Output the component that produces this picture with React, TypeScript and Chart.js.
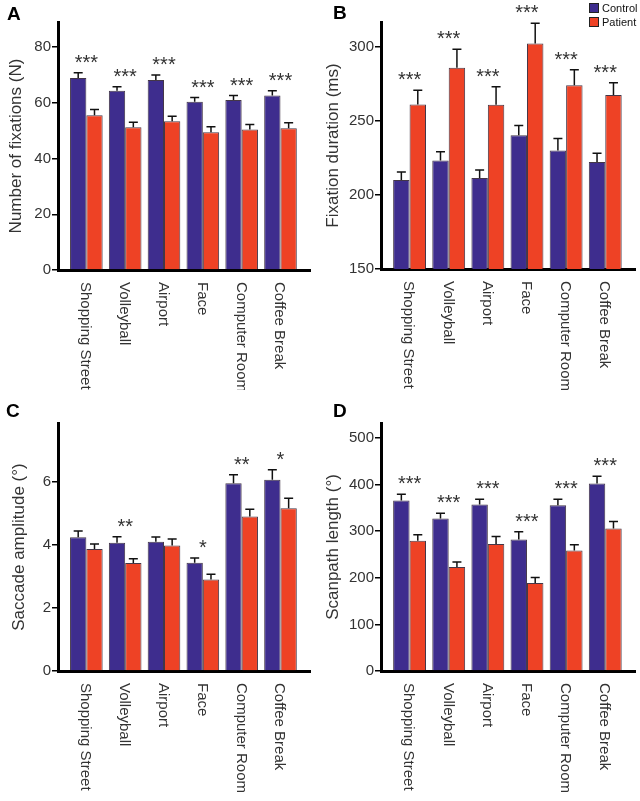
import React, { useEffect, useRef } from "react";
import { Chart, registerables } from "chart.js";

Chart.register(...registerables);

// ---------- data ----------
const categories = ["Shopping Street", "Volleyball", "Airport", "Face", "Computer Room", "Coffee Break"];
const seriesNames = ["Control", "Patient"];

// A: Number of fixations
const fixCountControl = [68.9, 64.3, 68.2, 60.4, 61.0, 62.6];
const fixCountControlErr = [1.9, 1.5, 1.8, 1.5, 1.6, 1.7];
const fixCountPatient = [55.5, 51.2, 53.4, 49.4, 50.4, 50.9];
const fixCountPatientErr = [2.1, 1.8, 1.8, 2.0, 1.8, 1.9];
const fixCountStars = ["***", "***", "***", "***", "***", "***"];
const fixCountTicks = [0, 20, 40, 60, 80];

// B: Fixation duration
const fixDurControl = [210.1, 223.4, 211.5, 240.5, 230.2, 222.3];
const fixDurControlErr = [5.4, 5.9, 5.4, 6.6, 8.1, 5.9];
const fixDurPatient = [261.3, 286.0, 261.0, 302.5, 274.3, 267.6];
const fixDurPatientErr = [9.6, 12.6, 12.2, 13.7, 10.4, 8.4];
const fixDurStars = ["***", "***", "***", "***", "***", "***"];
const fixDurTicks = [150, 200, 250, 300];

// C: Saccade amplitude
const saccControl = [4.23, 4.06, 4.09, 3.43, 5.94, 6.05];
const saccControlErr = [0.2, 0.19, 0.15, 0.15, 0.27, 0.32];
const saccPatient = [3.86, 3.42, 3.97, 2.9, 4.89, 5.15];
const saccPatientErr = [0.16, 0.13, 0.21, 0.16, 0.23, 0.32];
const saccStars = ["", "**", "", "*", "**", "*"];
const saccTicks = [0, 2, 4, 6];

// D: Scanpath length
const scanControl = [365.8, 327.2, 357.2, 282.2, 355.8, 402.2];
const scanControlErr = [13.5, 11.4, 11.4, 16.4, 12.8, 15.7];
const scanPatient = [279.3, 222.9, 272.2, 188.6, 258.7, 305.8];
const scanPatientErr = [12.8, 10.7, 16.4, 12.2, 12.0, 15.0];
const scanStars = ["***", "***", "***", "***", "***", "***"];
const scanTicks = [0, 100, 200, 300, 400, 500];

// ---------- style ----------
const CONTROL_COLOR = "#3e2d8e";
const PATIENT_COLOR = "#ee4225";
const BAR_BORDER = "rgba(35,20,40,0.85)";
const FONT = "'Liberation Sans', Arial, Helvetica, sans-serif";
const TEXT = "#333333";

type PanelDef = {
  letter: string;
  left: number;
  top: number;
  width: number;
  height: number;
  area: { left: number; top: number; right: number; bottom: number };
  yMin: number;
  yMax: number;
  ticks: number[];
  title: string;
  titlePad: number;
  control: number[];
  controlErr: number[];
  patient: number[];
  patientErr: number[];
  stars: string[];
  letterX: number;
  letterY: number;
  legend: boolean;
};

const panels: PanelDef[] = [
  {
    letter: "A", left: 0, top: 0, width: 320, height: 390,
    area: { left: 58, top: 22, right: 310, bottom: 270 },
    yMin: 0, yMax: 89, ticks: fixCountTicks, title: "Number of fixations (N)", titlePad: 6,
    control: fixCountControl, controlErr: fixCountControlErr,
    patient: fixCountPatient, patientErr: fixCountPatientErr, stars: fixCountStars,
    letterX: 7, letterY: 20, legend: false,
  },
  {
    letter: "B", left: 320, top: 0, width: 320, height: 390,
    area: { left: 61, top: 22, right: 315, bottom: 269 },
    yMin: 150, yMax: 317, ticks: fixDurTicks, title: "Fixation duration (ms)", titlePad: 3,
    control: fixDurControl, controlErr: fixDurControlErr,
    patient: fixDurPatient, patientErr: fixDurPatientErr, stars: fixDurStars,
    letterX: 13, letterY: 19, legend: true,
  },
  {
    letter: "C", left: 0, top: 390, width: 320, height: 411,
    area: { left: 58, top: 33, right: 310, bottom: 281 },
    yMin: 0, yMax: 7.85, ticks: saccTicks, title: "Saccade amplitude (°)", titlePad: 9,
    control: saccControl, controlErr: saccControlErr,
    patient: saccPatient, patientErr: saccPatientErr, stars: saccStars,
    letterX: 6, letterY: 27, legend: false,
  },
  {
    letter: "D", left: 320, top: 390, width: 320, height: 411,
    area: { left: 61, top: 33, right: 315, bottom: 281 },
    yMin: 0, yMax: 532, ticks: scanTicks, title: "Scanpath length (°)", titlePad: 3,
    control: scanControl, controlErr: scanControlErr,
    patient: scanPatient, patientErr: scanPatientErr, stars: scanStars,
    letterX: 13, letterY: 27, legend: false,
  },
];

// ---------- plugins ----------
const errorBarPlugin = {
  id: "errorBars",
  afterDatasetsDraw(chart: any) {
    const ctx = chart.ctx;
    const yScale = chart.scales.y;
    ctx.save();
    ctx.strokeStyle = "#111";
    ctx.lineWidth = 1.5;
    chart.data.datasets.forEach((ds: any, di: number) => {
      const meta = chart.getDatasetMeta(di);
      meta.data.forEach((bar: any, i: number) => {
        const v = ds.data[i].y;
        const e = ds.errors[i];
        const yErr = yScale.getPixelForValue(v + e);
        ctx.beginPath();
        ctx.moveTo(bar.x, bar.y);
        ctx.lineTo(bar.x, yErr);
        ctx.moveTo(bar.x - 4.5, yErr);
        ctx.lineTo(bar.x + 4.5, yErr);
        ctx.stroke();
      });
    });
    ctx.restore();
  },
};

const decorPlugin = {
  id: "decor",
  afterDraw(chart: any) {
    const p: PanelDef = chart.options.plugins.decor.panel;
    const ctx = chart.ctx;
    const xScale = chart.scales.x;
    const yScale = chart.scales.y;
    const area = chart.chartArea;
    const ds = chart.data.datasets;
    ctx.save();

    // significance stars
    ctx.fillStyle = TEXT;
    ctx.font = `20px ${FONT}`;
    ctx.textAlign = "center";
    ctx.textBaseline = "alphabetic";
    categories.forEach((_, i) => {
      const s = p.stars[i];
      if (!s) return;
      const top = Math.max(ds[0].data[i].y + ds[0].errors[i], ds[1].data[i].y + ds[1].errors[i]);
      const y = yScale.getPixelForValue(top);
      ctx.fillText(s, xScale.getPixelForValue(i), y - 4);
    });

    // rotated category labels (reading top to bottom)
    ctx.font = `15px ${FONT}`;
    ctx.fillStyle = TEXT;
    ctx.textAlign = "left";
    ctx.textBaseline = "middle";
    categories.forEach((c, i) => {
      ctx.save();
      ctx.translate(xScale.getPixelForValue(i) - 1, area.bottom + 12);
      ctx.rotate(Math.PI / 2);
      ctx.fillText(c, 0, 0);
      ctx.restore();
    });

    // panel letter
    ctx.font = `bold 19px ${FONT}`;
    ctx.fillStyle = "#000";
    ctx.textAlign = "left";
    ctx.textBaseline = "alphabetic";
    ctx.fillText(p.letter, p.letterX, p.letterY);

    // legend
    if (p.legend) {
      const colors = [CONTROL_COLOR, PATIENT_COLOR];
      ctx.font = `11px ${FONT}`;
      ctx.textBaseline = "middle";
      seriesNames.forEach((name, k) => {
        const sx = 269;
        const sy = 3 + k * 14;
        ctx.fillStyle = colors[k];
        ctx.fillRect(sx, sy, 10, 10);
        ctx.strokeStyle = "#222";
        ctx.lineWidth = 1;
        ctx.strokeRect(sx + 0.5, sy + 0.5, 9, 9);
        ctx.fillStyle = "#111";
        ctx.fillText(name, sx + 13, sy + 5.5);
      });
    }
    ctx.restore();
  },
};

function Panel({ p }: { p: PanelDef }) {
  const ref = useRef<HTMLCanvasElement>(null);
  useEffect(() => {
    if (!ref.current) return;
    const chart = new Chart(ref.current, {
      type: "bar",
      data: {
        datasets: [
          {
            label: seriesNames[0],
            data: p.control.map((v, i) => ({ x: i, y: v })),
            errors: p.controlErr,
            backgroundColor: CONTROL_COLOR,
            borderColor: BAR_BORDER,
            borderWidth: 1,
          } as any,
          {
            label: seriesNames[1],
            data: p.patient.map((v, i) => ({ x: i, y: v })),
            errors: p.patientErr,
            backgroundColor: PATIENT_COLOR,
            borderColor: BAR_BORDER,
            borderWidth: 1,
          } as any,
        ],
      },
      options: {
        animation: false,
        responsive: false,
        events: [],
        datasets: { bar: { barPercentage: 1, categoryPercentage: 0.84 } },
        layout: { padding: { top: p.area.top, right: p.width - p.area.right, bottom: 0, left: 0 } },
        plugins: {
          legend: { display: false },
          tooltip: { enabled: false },
          decor: { panel: p },
        } as any,
        scales: {
          x: {
            type: "linear",
            offset: false,
            min: -0.73,
            max: 5.76,
            ticks: { display: false },
            grid: { display: false, offset: false },
            border: { display: true, color: "#000", width: 3 },
            afterFit: (s: any) => {
              s.height = p.height - p.area.bottom;
              s.paddingLeft = 0;
              s.paddingRight = 0;
            },
          },
          y: {
            type: "linear",
            min: p.yMin,
            max: p.yMax,
            afterBuildTicks: (s: any) => {
              s.ticks = p.ticks.map((v) => ({ value: v }));
            },
            ticks: { font: { family: FONT, size: 15 }, color: TEXT, padding: 1 },
            grid: {
              display: true,
              drawOnChartArea: false,
              drawTicks: true,
              tickLength: 6,
              color: "#000",
              lineWidth: 1.5,
            },
            border: { display: true, color: "#000", width: 3 },
            title: {
              display: true,
              text: p.title,
              font: { family: FONT, size: 17 },
              color: TEXT,
              padding: { top: p.titlePad, bottom: 0 },
            },
            afterFit: (s: any) => {
              s.width = p.area.left;
              s.paddingTop = 0;
              s.paddingBottom = 0;
            },
          },
        },
      } as any,
      plugins: [errorBarPlugin, decorPlugin],
    });
    return () => chart.destroy();
  }, []);
  return (
    <div style={{ position: "absolute", left: p.left, top: p.top, width: p.width, height: p.height }}>
      <canvas ref={ref} width={p.width} height={p.height} style={{ display: "block" }} />
    </div>
  );
}

export default function App() {
  return (
    <div style={{ position: "absolute", left: 0, top: 0, width: 640, height: 801, background: "#fff", overflow: "hidden" }}>
      {panels.map((p) => (
        <Panel key={p.letter} p={p} />
      ))}
    </div>
  );
}
